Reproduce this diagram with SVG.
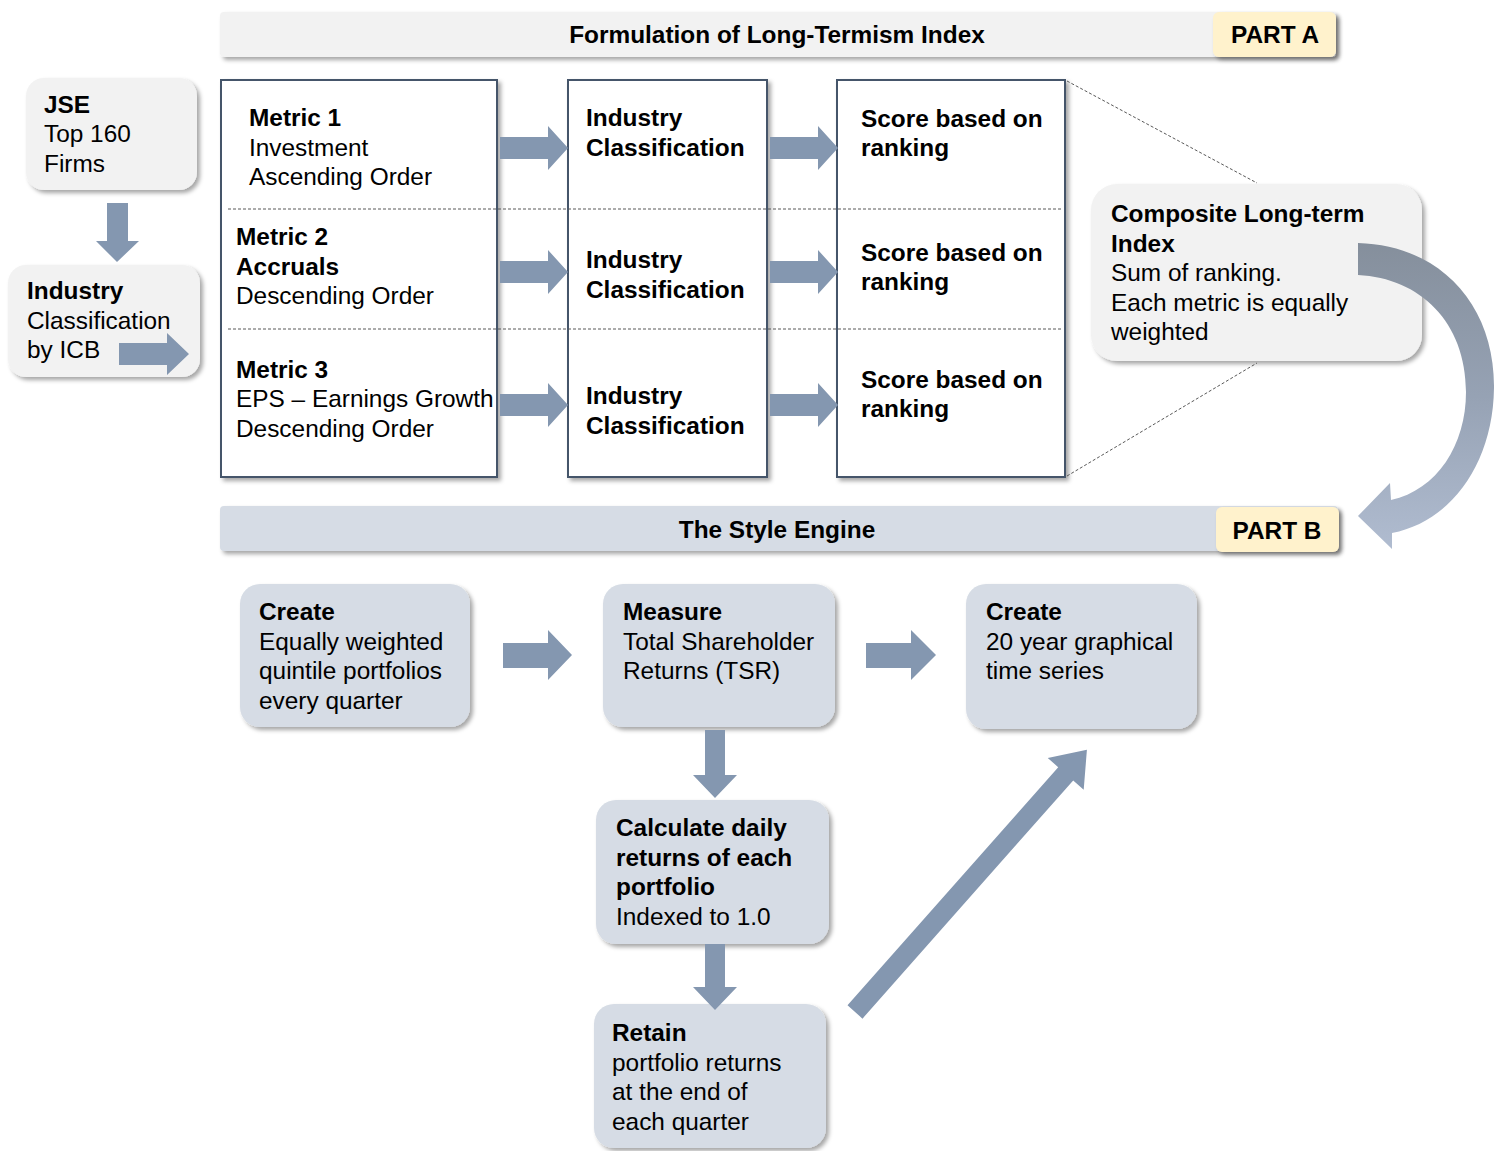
<svg xmlns="http://www.w3.org/2000/svg" width="1499" height="1151" viewBox="0 0 1499 1151">
<defs>
<filter id="sh" x="-10%" y="-10%" width="125%" height="130%">
<feDropShadow dx="3" dy="3" stdDeviation="2" flood-color="#000" flood-opacity="0.35"/>
</filter>
<linearGradient id="cg" x1="0" y1="0" x2="0" y2="1">
<stop offset="0" stop-color="#858f9c"/>
<stop offset="0.5" stop-color="#96a2b4"/>
<stop offset="1" stop-color="#b0bcd0"/>
</linearGradient>
</defs>
<style>
text{font-family:"Liberation Sans",Arial,sans-serif;font-size:24.4px;fill:#000}
.b{font-weight:bold}
.ttl{font-weight:bold;text-anchor:middle}
.grey{fill:#f2f2f2}
.blue{fill:#d6dce5}
.part{fill:#fff2cc}
.col{fill:#fff;stroke:#44546a;stroke-width:2}
.arr{fill:#8497b0}
.dash{stroke:#595959;stroke-width:1;stroke-dasharray:3 2;fill:none}
</style>
<rect width="1499" height="1151" fill="#fff"/>

<g id="banner-a">
<rect x="220" y="12" width="1116" height="45" rx="4" class="grey" filter="url(#sh)"/>
<text x="777" y="43" class="ttl">Formulation of Long-Termism Index</text>
</g>
<g id="part-a">
<rect x="1213" y="12" width="123" height="45" rx="6" class="part" filter="url(#sh)"/>
<text x="1275" y="43" class="ttl">PART A</text>
</g>

<g id="jse">
<rect x="26" y="78" width="171" height="112" rx="18" class="grey" filter="url(#sh)"/>
<text x="44" y="113" class="b">JSE</text>
<text x="44" y="142">Top 160</text>
<text x="44" y="172">Firms</text>
</g>
<g id="icb">
<rect x="8" y="265" width="192" height="112" rx="18" class="grey" filter="url(#sh)"/>
<text x="27" y="299" class="b">Industry</text>
<text x="27" y="329">Classification</text>
<text x="27" y="358">by ICB</text>
</g>

<g id="col-metrics">
<rect x="221" y="80" width="276" height="397" class="col" filter="url(#sh)"/>
<text x="249" y="126" class="b">Metric 1</text>
<text x="249" y="156">Investment</text>
<text x="249" y="185">Ascending Order</text>
<text x="236" y="245" class="b">Metric 2</text>
<text x="236" y="275" class="b">Accruals</text>
<text x="236" y="304">Descending Order</text>
<text x="236" y="378" class="b">Metric 3</text>
<text x="236" y="407">EPS – Earnings Growth</text>
<text x="236" y="437">Descending Order</text>
</g>
<g id="col-industry">
<rect x="568" y="80" width="199" height="397" class="col" filter="url(#sh)"/>
<text x="586" y="126" class="b">Industry</text>
<text x="586" y="156" class="b">Classification</text>
<text x="586" y="268" class="b">Industry</text>
<text x="586" y="298" class="b">Classification</text>
<text x="586" y="404" class="b">Industry</text>
<text x="586" y="434" class="b">Classification</text>
</g>
<g id="col-score">
<rect x="837" y="80" width="228" height="397" class="col" filter="url(#sh)"/>
<text x="861" y="127" class="b">Score based on</text>
<text x="861" y="156" class="b">ranking</text>
<text x="861" y="261" class="b">Score based on</text>
<text x="861" y="290" class="b">ranking</text>
<text x="861" y="388" class="b">Score based on</text>
<text x="861" y="417" class="b">ranking</text>
</g>

<g id="composite">
<rect x="1091" y="184" width="331" height="177" rx="26" class="grey" filter="url(#sh)"/>
<text x="1111" y="222" class="b">Composite Long-term</text>
<text x="1111" y="252" class="b">Index</text>
<text x="1111" y="281">Sum of ranking.</text>
<text x="1111" y="311">Each metric is equally</text>
<text x="1111" y="340">weighted</text>
</g>

<g id="banner-b">
<rect x="220" y="506" width="1118" height="45" rx="4" class="blue" filter="url(#sh)"/>
<text x="777" y="538" class="ttl">The Style Engine</text>
</g>
<g id="part-b">
<rect x="1216" y="507" width="123" height="45" rx="6" class="part" filter="url(#sh)"/>
<text x="1277" y="539" class="ttl">PART B</text>
</g>

<g id="create-portfolios">
<rect x="240" y="584" width="230" height="143" rx="20" class="blue" filter="url(#sh)"/>
<text x="259" y="620" class="b">Create</text>
<text x="259" y="650">Equally weighted</text>
<text x="259" y="679">quintile portfolios</text>
<text x="259" y="709">every quarter</text>
</g>
<g id="measure">
<rect x="603" y="584" width="232" height="143" rx="20" class="blue" filter="url(#sh)"/>
<text x="623" y="620" class="b">Measure</text>
<text x="623" y="650">Total Shareholder</text>
<text x="623" y="679">Returns (TSR)</text>
</g>
<g id="create-series">
<rect x="966" y="584" width="231" height="145" rx="20" class="blue" filter="url(#sh)"/>
<text x="986" y="620" class="b">Create</text>
<text x="986" y="650">20 year graphical</text>
<text x="986" y="679">time series</text>
</g>
<g id="calculate">
<rect x="596" y="800" width="233" height="144" rx="20" class="blue" filter="url(#sh)"/>
<text x="616" y="836" class="b">Calculate daily</text>
<text x="616" y="866" class="b">returns of each</text>
<text x="616" y="895" class="b">portfolio</text>
<text x="616" y="925">Indexed  to  1.0</text>
</g>
<g id="retain">
<rect x="594" y="1004" width="232" height="144" rx="20" class="blue" filter="url(#sh)"/>
<text x="612" y="1041" class="b">Retain</text>
<text x="612" y="1071">portfolio returns</text>
<text x="612" y="1100">at the end of</text>
<text x="612" y="1130">each quarter</text>
</g>

<g id="connectors">
<line x1="228" y1="209" x2="1062" y2="209" class="dash"/>
<line x1="228" y1="329" x2="1062" y2="329" class="dash"/>
<line x1="1067" y1="81" x2="1257" y2="183" class="dash"/>
<line x1="1067" y1="476" x2="1257" y2="363" class="dash"/>
<polygon class="arr" points="107,203 128,203 128,241 139,241 117,262 96,241 107,241"/>
<polygon class="arr" points="119,343 167,343 167,333 189,354 167,375 167,365 119,365"/>
<polygon class="arr" points="500,137 548,137 548,126 568,148 548,170 548,159 500,159"/>
<polygon class="arr" points="500,261 548,261 548,250 568,272 548,294 548,283 500,283"/>
<polygon class="arr" points="500,394 548,394 548,383 568,405 548,427 548,416 500,416"/>
<polygon class="arr" points="770,137 818,137 818,126 838,148 818,170 818,159 770,159"/>
<polygon class="arr" points="770,261 818,261 818,250 838,272 818,294 818,283 770,283"/>
<polygon class="arr" points="770,394 818,394 818,383 838,405 818,427 818,416 770,416"/>
<path fill="url(#cg)" d="M1358,243 C1440,245 1495,305 1494,388 C1493,465 1450,522 1392,533 L1392,549 L1358,516 L1390,483 L1391,500 C1437,490 1466,445 1466,392 C1466,322 1420,278 1358,275 Z"/>
<polygon class="arr" points="503,643 548,643 548,630 572,655 548,680 548,668 503,668"/>
<polygon class="arr" points="866,643 911,643 911,630 936,655 911,680 911,668 866,668"/>
<polygon class="arr" points="705,730 725,730 725,775 737,775 715,798 693,775 705,775"/>
<polygon class="arr" points="705,944 725,944 725,987 737,987 715,1010 693,987 705,987"/>
<g transform="translate(855,1012) rotate(-48.5)">
<polygon class="arr" points="0,-10 318,-10 318,-24 350,0 318,24 318,10 0,10"/>
</g>
</g>
</svg>
